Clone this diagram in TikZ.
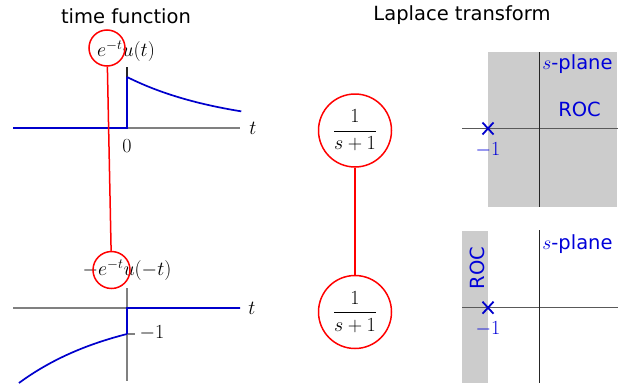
\documentclass[tikz,border=0pt]{standalone}
\usepackage{fix-cm}
\usepackage{amsmath}
\usepackage{fontspec}
\newfontfamily\dv{DejaVu Sans}
\begin{document}
\begin{tikzpicture}[x=1pt,y=-1pt,
  sanstxt/.style={font=\dv\fontsize{19.5}{23}\selectfont},
  mathtxt/.style={font=\fontsize{20}{24}\selectfont},
  bluetxt/.style={sanstxt,text=blue!85!black},
  axisgray/.style={draw=black!50,line width=1.2pt},
  axisdark/.style={draw=black!85,line width=1.2pt},
  sig/.style={draw=blue!80!black,line width=1.7pt},
  ring/.style={circle,draw=red,line width=1.5pt,inner sep=0pt},
  polemark/.style={draw=blue!80!black,line width=1.8pt},
  roc/.style={fill=black!20,draw=none}]
\useasboundingbox (0,0) rectangle (623,383);

% titles
\node[sanstxt,anchor=base] (t1) at (126,23) {time function};
\node[sanstxt,anchor=base] (t2) at (462,20) {Laplace transform};

% ---------- top-left: e^{-t}u(t)
\draw[axisgray] (13,128) -- (240,128);
\draw[axisdark] (127,67) -- (127,128);
\draw[sig] (13,128) -- (127,128) -- (127,77)
  plot[domain=0:1.12,samples=40] ({127+102*\x},{128-51*exp(-\x)});
\node[mathtxt] (tlab1) at (253,128) {$t$};
\node[mathtxt] (zero) at (127,146) {$0$};
\node[mathtxt] (f1) at (126,51) {$e^{-t}u(t)$};
\node[ring,minimum size=36pt] (c1) at (107,48) {};

% ---------- bottom-left: -e^{-t}u(-t)
\draw[axisgray] (13,308) -- (240,308);
\draw[axisgray] (127,288) -- (127,381);
\draw[axisgray] (127,334) -- (135,334);
\draw[sig] (240,308) -- (127,308) -- (127,334)
  plot[domain=0:-1.06,samples=40] ({127+102*\x},{308+26*exp(-\x)});
\node[mathtxt] (tlab2) at (252,308) {$t$};
\node[mathtxt] (m1) at (152,333) {$-1$};
\node[mathtxt] (f2) at (127,270) {$-e^{-t}u(-t)$};
\node[ring,minimum size=37pt] (c2) at (111.5,270) {};

\draw[red,line width=1.5pt] (c1) -- (c2);

% ---------- middle: transforms
\node[ring,minimum size=73pt,mathtxt] (L1) at (355,130.5) {$\dfrac{1}{s+1}$};
\node[ring,minimum size=73pt,mathtxt] (L2) at (355,312) {$\dfrac{1}{s+1}$};
\draw[red,line width=1.5pt] (L1) -- (L2);

% ---------- top s-plane
\fill[roc] (488,52) rectangle (617,207);
\draw[axisgray,draw=black!65] (462,128.5) -- (618,128.5);
\draw[axisdark] (539.5,52) -- (539.5,207);
\draw[polemark] (482.5,122.5) -- (493.5,134.5) (482.5,134.5) -- (493.5,122.5);
\node[mathtxt,text=blue!85!black] (p1) at (488,150) {$-1$};
\node[bluetxt,anchor=base] (sp1) at (577.5,69) {$s$-plane};
\node[bluetxt] (roc1) at (579.5,109) {ROC};

% ---------- bottom s-plane
\fill[roc] (462,231) rectangle (488,383);
\draw[axisgray,draw=black!65] (462,307.7) -- (618,307.7);
\draw[axisdark] (539.5,230) -- (539.5,383);
\draw[polemark] (482.5,301.7) -- (493.5,313.7) (482.5,313.7) -- (493.5,301.7);
\node[mathtxt,text=blue!85!black] (p2) at (488,328.5) {$-1$};
\node[bluetxt,anchor=base] (sp2) at (577.5,249) {$s$-plane};
\node[bluetxt,rotate=90] (roc2) at (477,268) {ROC};
\end{tikzpicture}
\end{document}
